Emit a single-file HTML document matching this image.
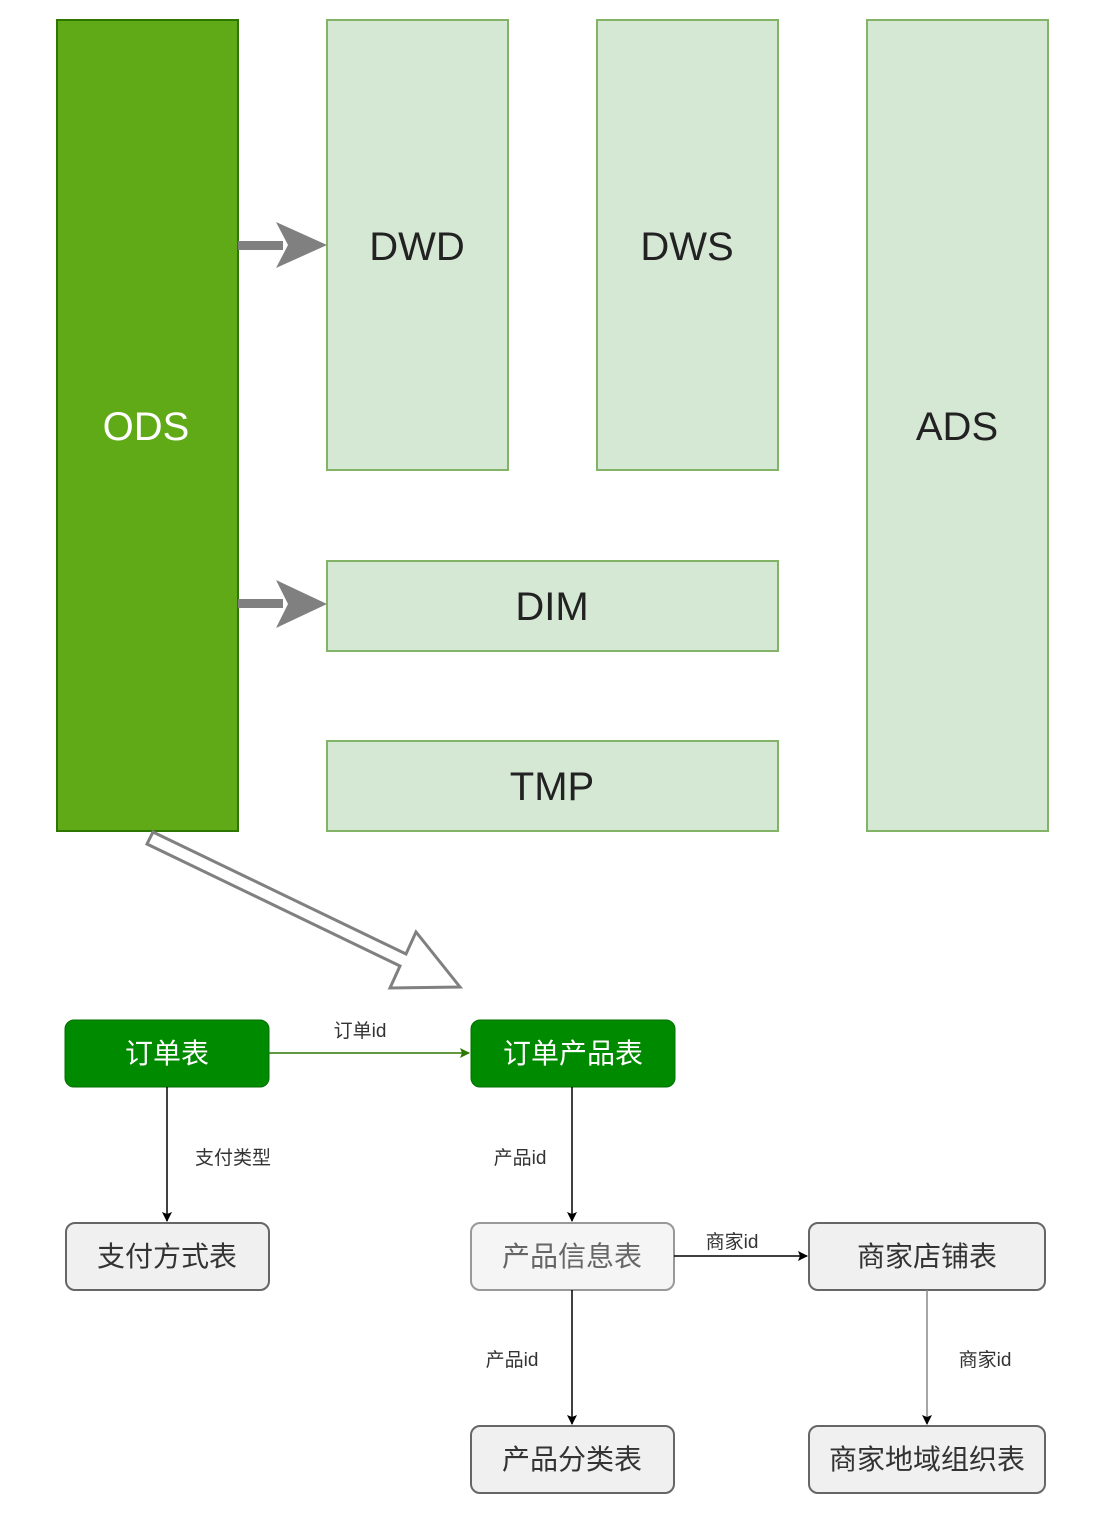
<!DOCTYPE html>
<html><head><meta charset="utf-8"><style>body{margin:0;background:#fff}svg{display:block}</style></head><body>
<svg width="1093" height="1529" viewBox="0 0 1093 1529" xmlns="http://www.w3.org/2000/svg" font-family="Liberation Sans, Noto Sans CJK SC, sans-serif">
<defs>
<marker id="a" markerWidth="10" markerHeight="10" refX="9" refY="5" orient="auto" markerUnits="userSpaceOnUse"><path d="M0,0 L10,5 L0,10 L2,5 Z" fill="#000"/></marker>
<marker id="ag" markerWidth="10" markerHeight="10" refX="9" refY="5" orient="auto" markerUnits="userSpaceOnUse"><path d="M0,0 L10,5 L0,10 L2,5 Z" fill="#2d7600"/></marker>
</defs>
<rect x="57" y="20" width="181" height="811" fill="#60a917" stroke="#2d7600" stroke-width="2"/>
<text x="146" y="440" font-size="40" fill="#fff" text-anchor="middle">ODS</text>
<g fill="#d5e8d4" stroke="#82b366" stroke-width="2">
<rect x="327" y="20" width="181" height="450"/>
<rect x="597" y="20" width="181" height="450"/>
<rect x="867" y="20" width="181" height="811"/>
<rect x="327" y="561" width="451" height="90"/>
<rect x="327" y="741" width="451" height="90"/>
</g>
<g font-size="40" fill="#222" text-anchor="middle">
<text x="417" y="260">DWD</text>
<text x="687" y="260">DWS</text>
<text x="957" y="440">ADS</text>
<text x="552" y="620">DIM</text>
<text x="552" y="800">TMP</text>
</g>
<g fill="#808080">
<rect x="238" y="241" width="45" height="9"/><path d="M276,222 L327,245 L276,268 L288,245 Z"/>
<rect x="238" y="599" width="45" height="9"/><path d="M276,580 L327,604 L276,628 L288,604 Z"/>
</g>
<polygon points="147,844 153,832 406,954 416,932 460,987 390,988 400,966" fill="#fff" stroke="#808080" stroke-width="3" stroke-linejoin="miter"/>
<rect x="65" y="1020" width="204" height="67" rx="9" fill="#008a00" stroke="#007000"/>
<rect x="471" y="1020" width="204" height="67" rx="9" fill="#008a00" stroke="#007000"/>
<g font-size="28" fill="#fff" text-anchor="middle"><text x="167" y="1063">订单表</text><text x="573" y="1063">订单产品表</text></g>
<g stroke="#666" stroke-width="2">
<rect x="66" y="1223" width="203" height="67" rx="9" fill="#f0f0f0"/>
<rect x="471" y="1223" width="203" height="67" rx="9" fill="#f5f5f5" stroke="#999"/>
<rect x="809" y="1223" width="236" height="67" rx="9" fill="#f0f0f0"/>
<rect x="471" y="1426" width="203" height="67" rx="9" fill="#f0f0f0"/>
<rect x="809" y="1426" width="236" height="67" rx="9" fill="#f0f0f0"/>
</g>
<g font-size="28" fill="#333" text-anchor="middle">
<text x="167" y="1266">支付方式表</text>
<text x="572" y="1266" fill="#666">产品信息表</text>
<text x="927" y="1266">商家店铺表</text>
<text x="572" y="1469">产品分类表</text>
<text x="927" y="1469">商家地域组织表</text>
</g>
<line x1="269" y1="1053" x2="469" y2="1053" stroke="#2d7600" stroke-width="1.5" marker-end="url(#ag)"/>
<g stroke="#000" stroke-width="1.5">
<line x1="167" y1="1087" x2="167" y2="1221" marker-end="url(#a)"/>
<line x1="572" y1="1087" x2="572" y2="1221" marker-end="url(#a)"/>
<line x1="674" y1="1256" x2="807" y2="1256" marker-end="url(#a)"/>
<line x1="572" y1="1290" x2="572" y2="1424" marker-end="url(#a)"/>
<line x1="927" y1="1290" x2="927" y2="1424" stroke="#888" marker-end="url(#a)"/>
</g>
<g font-size="19" fill="#333" text-anchor="middle">
<text x="360" y="1037">订单id</text>
<text x="233" y="1164">支付类型</text>
<text x="520" y="1164">产品id</text>
<text x="732" y="1248">商家id</text>
<text x="512" y="1366">产品id</text>
<text x="985" y="1366">商家id</text>
</g>
</svg>
</body></html>
